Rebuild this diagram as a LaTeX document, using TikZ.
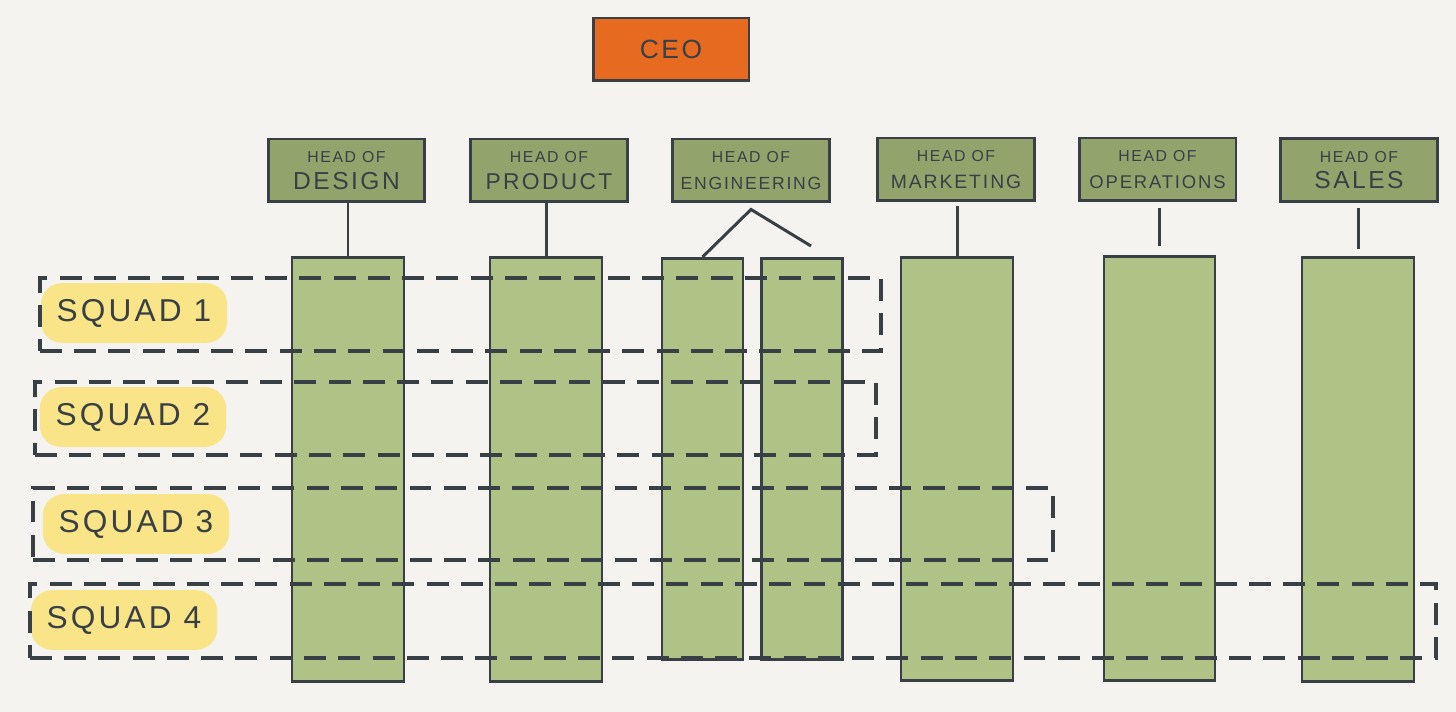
\documentclass[tikz,border=0pt]{standalone}
\usepackage{fontspec}
\setmainfont{Liberation Sans}
\newfontfamily\hand[LetterSpace=10]{Liberation Sans}
\usetikzlibrary{positioning}
\definecolor{paper}{HTML}{F4F3EF}
\definecolor{ink}{HTML}{394045}
\definecolor{ceoorange}{HTML}{E66A20}
\definecolor{headgreen}{HTML}{93A36C}
\definecolor{colgreen}{HTML}{B0C386}
\definecolor{marker}{HTML}{F6D955}
\newcommand{\headof}[2]{{\fontsize{9}{11}\selectfont HEAD OF}\\[3pt]{\fontsize{#1}{14}\selectfont #2}}
\tikzstyle{ceo} = [draw=ink, fill=ceoorange, line width=1.7pt, minimum width=3.12cm, minimum height=1.26cm, text=ink, font=\hand\fontsize{15}{15}\selectfont]
\tikzstyle{head} = [draw=ink, fill=headgreen, line width=1.7pt, minimum width=3.14cm, minimum height=1.26cm, align=center, text=ink, font=\hand]
\tikzstyle{team} = [draw=ink, fill=colgreen, line width=1.5pt, anchor=north, minimum width=2.24cm, minimum height=8.48cm]
\tikzstyle{squad} = [draw=ink, line width=2.2pt, dash pattern=on 12.5pt off 7pt, anchor=north west, minimum height=1.46cm]
\tikzstyle{squadname} = [fill=marker!70, rounded corners=12pt, text=ink, font=\hand\fontsize{18}{18}\selectfont, inner xsep=9pt, inner ysep=9pt]
\tikzstyle{link} = [draw=ink, line width=1.7pt]

\begin{document}
\begin{tikzpicture}[x=0.02cm, y=-0.02cm]
	\fill[paper] (0,0) rectangle (1456,712);
	\useasboundingbox (0,0) rectangle (1456,712);

	\node[squadname] (n1) at (134,313) {SQUAD 1};
	\node[squadname] (n2) at (133,417) {SQUAD 2};
	\node[squadname] (n3) at (136,524) {SQUAD 3};
	\node[squadname] (n4) at (124,620) {SQUAD 4};

	\node[team] (cdesign) at (348,256) {};
	\node[team] (cproduct) at (546,256) {};
	\node[team, minimum width=1.62cm, minimum height=8.02cm] (ceng1) at (702.5,257) {};
	\node[team, minimum width=1.62cm, minimum height=8.02cm] (ceng2) at (802,257) {};
	\node[team, minimum height=8.46cm] (cmarketing) at (957,256) {};
	\node[team, minimum width=2.22cm] (cops) at (1159.5,255) {};
	\node[team] (csales) at (1358,256) {};

	\node[squad, minimum width=16.82cm] (sq1) at (38,276) {};
	\node[squad, minimum width=16.82cm] (sq2) at (33,380) {};
	\node[squad, minimum width=20.4cm, minimum height=1.44cm] (sq3) at (31,486) {};
	\node[squad, minimum width=28.12cm, minimum height=1.48cm] (sq4) at (28,582) {};

	\node[ceo] (ceo) at (671,49.5) {CEO};
	\node[head] (hdesign) at (346.5,170.5) {\headof{14}{DESIGN}};
	\node[head] (hproduct) at (549,170.5) {\headof{13}{PRODUCT}};
	\node[head] (hengineering) at (751,170.5) {\headof{10}{ENGINEERING}};
	\node[head] (hmarketing) at (956,169.5) {\headof{11}{MARKETING}};
	\node[head] (hops) at (1157.5,169.5) {\headof{10.5}{OPERATIONS}};
	\node[head] (hsales) at (1359,170) {\headof{14}{SALES}};

	\coordinate[below=0.12cm of hengineering.south] (engfork);
	\coordinate[above right=0.22cm and 0.18cm of ceng2.north] (engend);
	\draw[link] (cdesign.north |- hdesign.south) -- (cdesign.north);
	\draw[link] (cproduct.north |- hproduct.south) -- (cproduct.north);
	\draw[link] (ceng1.north) -- (engfork) -- (engend);
	\draw[link, shorten <=2pt] (cmarketing.north |- hmarketing.south) -- (cmarketing.north);
	\draw[link, shorten <=3pt, shorten >=5pt] (cops.north |- hops.south) -- (cops.north);
	\draw[link, shorten <=3pt, shorten >=4pt] (csales.north |- hsales.south) -- (csales.north);
\end{tikzpicture}
\end{document}
